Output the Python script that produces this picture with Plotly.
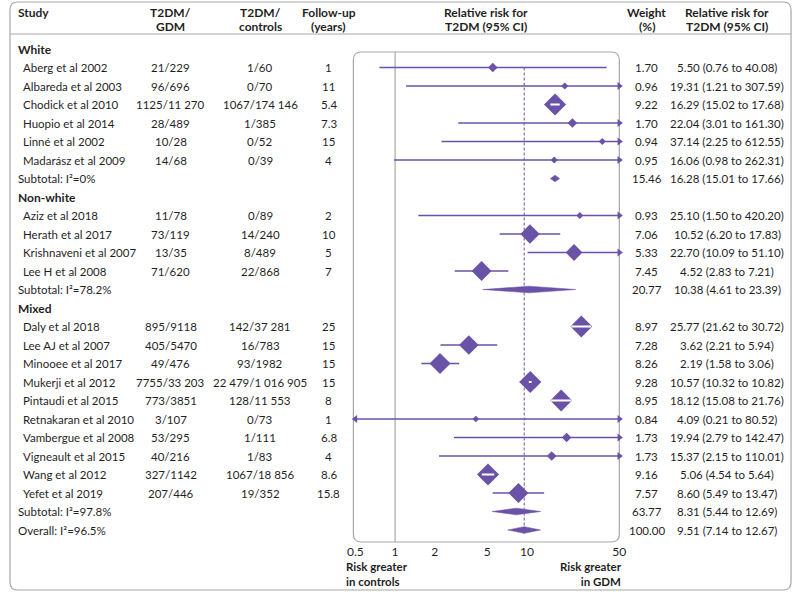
import math
import plotly.graph_objects as go

W, H = 800, 592

# ---------------- data ----------------
group_names = ["White", "Non-white", "Mixed"]
group_sizes = [6, 4, 10]
studies = ["Aberg et al 2002", "Albareda et al 2003", "Chodick et al 2010", "Huopio et al 2014",
           "Linné et al 2002", "Madarász et al 2009",
           "Aziz et al 2018", "Herath et al 2017", "Krishnaveni et al 2007", "Lee H et al 2008",
           "Daly et al 2018", "Lee AJ et al 2007", "Minooee et al 2017", "Mukerji et al 2012",
           "Pintaudi et al 2015", "Retnakaran et al 2010", "Vambergue et al 2008",
           "Vigneault et al 2015", "Wang et al 2012", "Yefet et al 2019"]
t2dm_gdm = ["21/229", "96/696", "1125/11 270", "28/489", "10/28", "14/68",
            "11/78", "73/119", "13/35", "71/620",
            "895/9118", "405/5470", "49/476", "7755/33 203", "773/3851", "3/107",
            "53/295", "40/216", "327/1142", "207/446"]
t2dm_controls = ["1/60", "0/70", "1067/174 146", "1/385", "0/52", "0/39",
                 "0/89", "14/240", "8/489", "22/868",
                 "142/37 281", "16/783", "93/1982", "22 479/1 016 905", "128/11 553", "0/73",
                 "1/111", "1/83", "1067/18 856", "19/352"]
followup = ["1", "11", "5.4", "7.3", "15", "4",
            "2", "10", "5", "7",
            "25", "15", "15", "15", "8", "1", "6.8", "4", "8.6", "15.8"]
weight = [1.70, 0.96, 9.22, 1.70, 0.94, 0.95,
          0.93, 7.06, 5.33, 7.45,
          8.97, 7.28, 8.26, 9.28, 8.95, 0.84, 1.73, 1.73, 9.16, 7.57]
rr = [5.50, 19.31, 16.29, 22.04, 37.14, 16.06,
      25.10, 10.52, 22.70, 4.52,
      25.77, 3.62, 2.19, 10.57, 18.12, 4.09, 19.94, 15.37, 5.06, 8.60]
lo = [0.76, 1.21, 15.02, 3.01, 2.25, 0.98,
      1.50, 6.20, 10.09, 2.83,
      21.62, 2.21, 1.58, 10.32, 15.08, 0.21, 2.79, 2.15, 4.54, 5.49]
hi = [40.08, 307.59, 17.68, 161.30, 612.55, 262.31,
      420.20, 17.83, 51.10, 7.21,
      30.72, 5.94, 3.06, 10.82, 21.76, 80.52, 142.47, 110.01, 5.64, 13.47]

pooled_labels = ["Subtotal: I²=0%", "Subtotal: I²=78.2%", "Subtotal: I²=97.8%", "Overall: I²=96.5%"]
pooled_weight = [15.46, 20.77, 63.77, 100.00]
pooled_rr = [16.28, 10.38, 8.31, 9.51]
pooled_lo = [15.01, 4.61, 5.44, 7.14]
pooled_hi = [17.66, 23.39, 12.69, 12.67]

x_ticks = [0.5, 1, 2, 5, 10, 50]
x_ticktext = ["0.5", "1", "2", "5", "10", "50"]

# ---------------- style / geometry ----------------
PURPLE = "#6a52a6"
TEXT = "#1f1f1f"
GRAY = "#a8a8a8"
FONT = "Lato"
FS = 11.5
FSB = 12

ROW0, ROWH = 49.0, 18.5          # pixel y of first row, row height
PX0, PX1 = 354.0, 623.0          # pixel x of axis range ends
XMIN, XMAX = 0.5, 50.0
PX_PER_DEC = (PX1 - PX0) / (math.log10(XMAX) - math.log10(XMIN))
PANEL = (352, 52, 623, 542)


def px(x):
    return x / W


def py(y):
    return 1 - y / H


def rrect(x0, y0, x1, y1, r):
    pts = [("M", x0 + r, y0), ("L", x1 - r, y0), ("Q", x1, y0, x1, y0 + r), ("L", x1, y1 - r),
           ("Q", x1, y1, x1 - r, y1), ("L", x0 + r, y1), ("Q", x0, y1, x0, y1 - r),
           ("L", x0, y0 + r), ("Q", x0, y0, x0 + r, y0)]
    s = ""
    for p in pts:
        cmd = p[0]
        coords = p[1:]
        parts = []
        for i in range(0, len(coords), 2):
            parts.append(f"{px(coords[i]):.5f},{py(coords[i+1]):.5f}")
        s += cmd + " " + " ".join(parts) + " "
    return s + "Z"


# ---------------- rows ----------------
study_rows, pooled_rows, group_rows = [], [], []
r = 0
for g, n in zip(group_names, group_sizes):
    group_rows.append(r)
    r += 1
    for _ in range(n):
        study_rows.append(r)
        r += 1
    pooled_rows.append(r)
    r += 1
pooled_rows.append(r)
last_row = r

fig = go.Figure()

# CI lines (clipped to axis range)
cx, cy = [], []
arrows_r_x, arrows_r_y, arrows_l_x, arrows_l_y = [], [], [], []
for i, row in enumerate(study_rows):
    a = max(lo[i], XMIN)
    b = min(hi[i], XMAX)
    cx += [a, b, None]
    cy += [row, row, None]
    if hi[i] > XMAX:
        arrows_r_x.append(XMAX)
        arrows_r_y.append(row)
    if lo[i] < XMIN:
        arrows_l_x.append(XMIN)
        arrows_l_y.append(row)

fig.add_trace(go.Scatter(x=cx, y=cy, mode="lines", line=dict(color=PURPLE, width=1.5),
                         hoverinfo="skip", cliponaxis=False))

# study markers (area proportional to weight)
sizes = [5.6 * math.sqrt(w) for w in weight]
fig.add_trace(go.Scatter(x=rr, y=study_rows, mode="markers",
                         marker=dict(symbol="diamond", size=sizes, color=PURPLE, opacity=1,
                                     line=dict(width=0)),
                         hoverinfo="skip", cliponaxis=False))

# white CI lines where the CI lies inside the marker
wx, wy = [], []
for i, row in enumerate(study_rows):
    half = 0.65 * sizes[i]
    left = PX_PER_DEC * math.log10(rr[i] / lo[i])
    right = PX_PER_DEC * math.log10(hi[i] / rr[i])
    if left < half and right < half:
        wx += [lo[i], hi[i], None]
        wy += [row, row, None]
fig.add_trace(go.Scatter(x=wx, y=wy, mode="lines", line=dict(color="white", width=1.8),
                         hoverinfo="skip"))

# arrow heads
fig.add_trace(go.Scatter(x=arrows_r_x, y=arrows_r_y, mode="markers",
                         marker=dict(symbol="triangle-right", size=7, color=PURPLE, opacity=1),
                         hoverinfo="skip", cliponaxis=False))
fig.add_trace(go.Scatter(x=arrows_l_x, y=arrows_l_y, mode="markers",
                         marker=dict(symbol="triangle-left", size=7, color=PURPLE, opacity=1),
                         hoverinfo="skip", cliponaxis=False))

# pooled diamonds
hh = 0.18
for j, row in enumerate(pooled_rows):
    fig.add_trace(go.Scatter(
        x=[pooled_lo[j], pooled_rr[j], pooled_hi[j], pooled_rr[j], pooled_lo[j]],
        y=[row, row - hh, row, row + hh, row],
        mode="lines", fill="toself", fillcolor=PURPLE, line=dict(color=PURPLE, width=0.5),
        hoverinfo="skip"))

# ---------------- shapes ----------------
shapes = []
shapes.append(dict(type="path", path=rrect(2, 2, 798, 590, 8), xref="paper", yref="paper",
                   line=dict(color=GRAY, width=1.2), layer="below"))
shapes.append(dict(type="line", xref="paper", yref="paper", x0=px(2), x1=px(798), y0=py(34), y1=py(34),
                   line=dict(color=GRAY, width=1.2)))
shapes.append(dict(type="path", path=rrect(*PANEL, 8), xref="paper", yref="paper",
                   line=dict(color=GRAY, width=1.2), layer="below"))
shapes.append(dict(type="line", xref="x", yref="paper", x0=1, x1=1, y0=py(PANEL[1]), y1=py(PANEL[3]),
                   line=dict(color=GRAY, width=1.2), layer="below"))
shapes.append(dict(type="line", xref="x", yref="y", x0=pooled_rr[-1], x1=pooled_rr[-1],
                   y0=study_rows[0], y1=last_row + 0.2,
                   line=dict(color=PURPLE, width=1, dash="3px,2px"), layer="below"))

# ---------------- text ----------------
ann = []


def txt(x, y, s, anchor="center", yref="y", bold=False, size=FS, align="left"):
    ann.append(dict(x=px(x), y=y, xref="paper", yref=yref, text=("<b>%s</b>" % s) if bold else s,
                    showarrow=False, xanchor=anchor, yanchor="middle", align=align,
                    font=dict(family=FONT, size=size, color=TEXT)))


# header
hdr = [(8, "left", ["Study"]), (166, "center", ["T2DM/", "GDM"]), (257, "center", ["T2DM/", "controls"]),
       (327, "center", ["Follow-up", "(years)"]), (487, "center", ["Relative risk for", "T2DM (95% CI)"]),
       (651, "center", ["Weight", "(%)"]), (733, "center", ["Relative risk for", "T2DM (95% CI)"])]
for x, a, lines in hdr:
    for li, s in enumerate(lines):
        txt(x, py(13 + 13 * li), s, anchor=a, yref="paper", bold=True, size=FSB)

for g, row in zip(group_names, group_rows):
    txt(8, row, g, anchor="left", bold=True, size=FSB)

for i, row in enumerate(study_rows):
    txt(13, row, studies[i], anchor="left")
    txt(166, row, t2dm_gdm[i])
    txt(257, row, t2dm_controls[i])
    txt(327, row, followup[i])
    txt(651, row, f"{weight[i]:.2f}")
    txt(733, row, f"{rr[i]:.2f} ({lo[i]:.2f} to {hi[i]:.2f})")

for j, row in enumerate(pooled_rows):
    txt(8, row, pooled_labels[j], anchor="left")
    txt(651, row, f"{pooled_weight[j]:.2f}")
    txt(733, row, f"{pooled_rr[j]:.2f} ({pooled_lo[j]:.2f} to {pooled_hi[j]:.2f})")

# bottom labels
txt(342, py(574), "<b>Risk greater<br>in controls</b>", anchor="left", yref="paper", size=11.5, align="left")
txt(628, py(574), "<b>Risk greater<br>in GDM</b>", anchor="right", yref="paper", size=11.5, align="right")

y_top = -ROW0 / ROWH
y_bot = (H - ROW0) / ROWH

fig.update_layout(
    width=W, height=H, margin=dict(l=0, r=0, t=0, b=0),
    paper_bgcolor="white", plot_bgcolor="rgba(0,0,0,0)",
    showlegend=False, shapes=shapes, annotations=ann,
    xaxis=dict(type="log", range=[math.log10(XMIN), math.log10(XMAX)],
               domain=[PX0 / W, PX1 / W], anchor="free", position=1 - (PANEL[3] + 1) / H,
               tickvals=x_ticks, ticktext=x_ticktext, ticks="", showgrid=False, zeroline=False,
               showline=False, tickfont=dict(family=FONT, size=12, color=TEXT)),
    yaxis=dict(range=[y_bot, y_top], domain=[0, 1], visible=False, showgrid=False, zeroline=False),
)

fig.write_html("out.html", config={"displayModeBar": False},
               post_script="document.body.style.margin='0';document.body.style.overflow='hidden';")
